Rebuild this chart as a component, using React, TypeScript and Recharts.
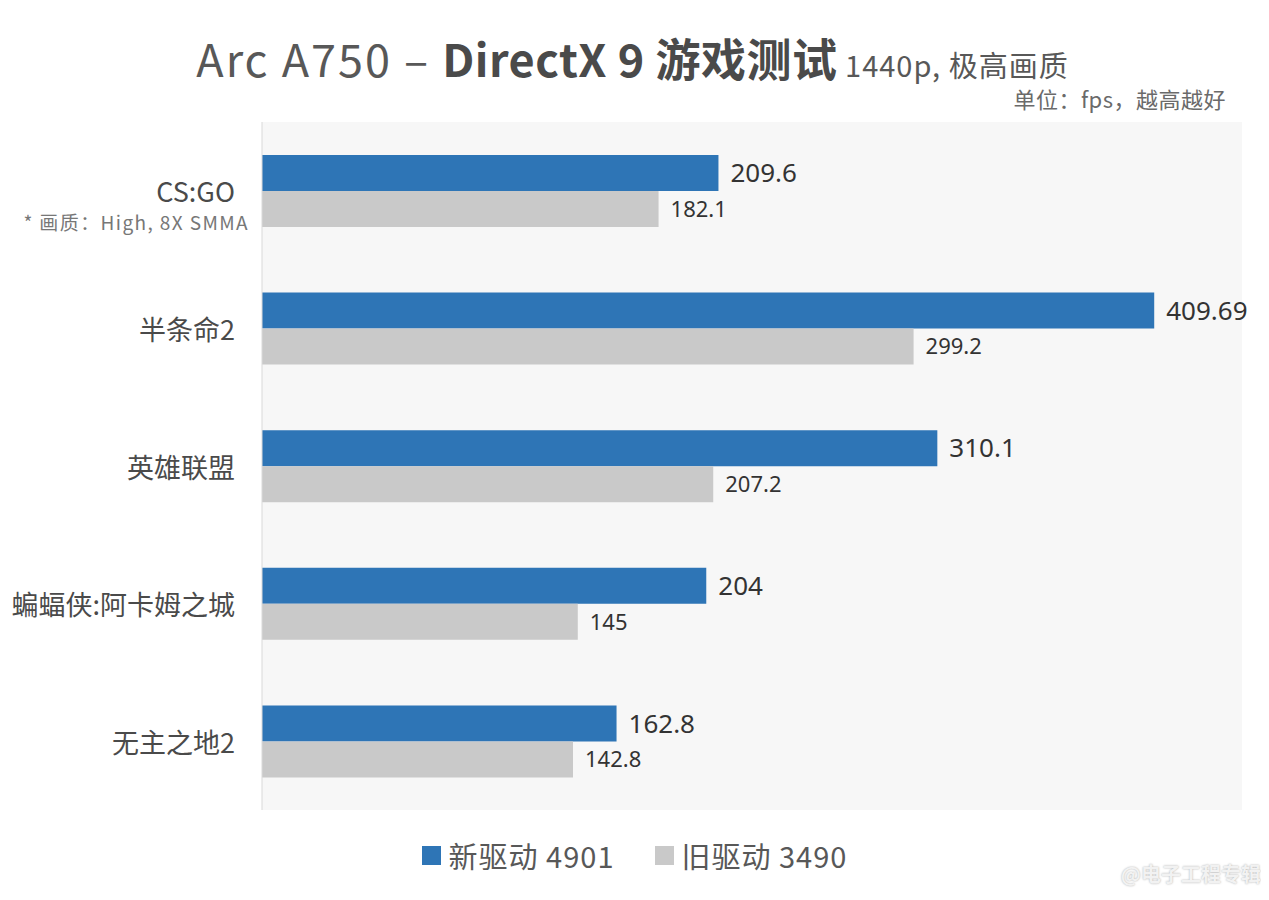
import { BarChart, Bar, XAxis, YAxis, CartesianGrid, LabelList } from 'recharts';

// games, top to bottom
const games = ['CS:GO', '半条命2', '英雄联盟', '蝙蝠侠:阿卡姆之城', '无主之地2'];
const newDriver = [209.6, 409.69, 310.1, 204, 162.8];
const oldDriver = [182.1, 299.2, 207.2, 145, 142.8];
const gameNotes: Record<string, string> = { 'CS:GO': '* 画质：High, 8X SMMA' };

const seriesNames = ['新驱动 4901', '旧驱动 3490'];
const seriesColors = ['#2e75b6', '#c9c9c9'];

const data = games.map((g, i) => ({ game: g, newDrv: newDriver[i], oldDrv: oldDriver[i] }));

const CJK = '"Noto Sans CJK SC", "Noto Sans", sans-serif';
const NUM = '"Noto Sans", "Open Sans", sans-serif';

function GameTick(props: any) {
  const { x, y, payload } = props;
  const note = gameNotes[payload.value];
  return (
    <g>
      <text x={x} y={y} textAnchor="end" dominantBaseline="central"
        fontFamily={CJK} fontSize={27} fill="#4a4a4a">
        {payload.value}
      </text>
      {note && (
        <text x={x + 14} y={y + 31} textAnchor="end" dominantBaseline="central"
          fontFamily={CJK} fontSize={19} letterSpacing={1.4} fill="#777">
          {note}
        </text>
      )}
    </g>
  );
}

export default function App() {
  return (
    <div style={{ position: 'relative', width: 1269, height: 900, margin: -8, background: '#fff', overflow: 'hidden' }}>
      {/* title */}
      <div style={{
        position: 'absolute', top: 30, left: 0, width: 1269, paddingRight: 4, boxSizing: 'border-box',
        textAlign: 'center', fontFamily: CJK, color: '#585858', whiteSpace: 'nowrap', lineHeight: '56px',
      }}>
        <span style={{ fontSize: 45, letterSpacing: 2 }}>Arc A750 – </span>
        <span style={{ fontSize: 45, fontWeight: 700, color: '#4a4a4a', letterSpacing: 0.5 }}>DirectX 9 游戏测试</span>
        <span style={{ fontSize: 29, letterSpacing: 1 }}> 1440p, 极高画质</span>
      </div>
      <div style={{
        position: 'absolute', top: 82, right: 43, fontFamily: CJK, fontSize: 22, color: '#6a6a6a',
        whiteSpace: 'nowrap', letterSpacing: 0.5,
      }}>
        单位：fps，越高越好
      </div>

      <div style={{ position: 'absolute', top: 0, left: 0 }}>
        <BarChart width={1269} height={900} data={data} layout="vertical"
          margin={{ top: 122, right: 27, bottom: 90, left: 0 }}
          barCategoryGap="24%" barGap={0}>
          <CartesianGrid fill="#f7f7f7" horizontal={false} vertical={false} />
          <XAxis type="number" domain={[0, 450]} hide />
          <YAxis type="category" dataKey="game" width={262} tickLine={false} tickSize={0} tickMargin={27}
            axisLine={{ stroke: '#d9d9d9' }} tick={<GameTick />} interval={0} />
          <Bar dataKey="newDrv" fill={seriesColors[0]} isAnimationActive={false}>
            <LabelList dataKey="newDrv" position="right" offset={12}
              style={{ fontFamily: NUM, fontSize: 26, fill: '#333' }} />
          </Bar>
          <Bar dataKey="oldDrv" fill={seriesColors[1]} isAnimationActive={false}>
            <LabelList dataKey="oldDrv" position="right" offset={12}
              style={{ fontFamily: NUM, fontSize: 22, fill: '#333' }} />
          </Bar>
        </BarChart>
      </div>

      {/* legend */}
      <div style={{
        position: 'absolute', top: 834, left: 0, width: 1269, boxSizing: 'border-box',
        display: 'flex', justifyContent: 'center', gap: 40, fontFamily: CJK, fontSize: 29, letterSpacing: 1,
        color: '#585858',
      }}>
        {seriesNames.map((n, i) => (
          <div key={n} style={{ display: 'flex', alignItems: 'center', gap: 8 }}>
            <span style={{ width: 19, height: 19, background: seriesColors[i], display: 'inline-block' }} />
            <span>{n}</span>
          </div>
        ))}
      </div>

      <div style={{
        position: 'absolute', top: 859, right: 8, fontFamily: CJK, fontSize: 20, fontWeight: 700,
        color: '#f2f2f2', textShadow: '0 0 2px #aaa', whiteSpace: 'nowrap',
      }}>
        @电子工程专辑
      </div>
    </div>
  );
}
